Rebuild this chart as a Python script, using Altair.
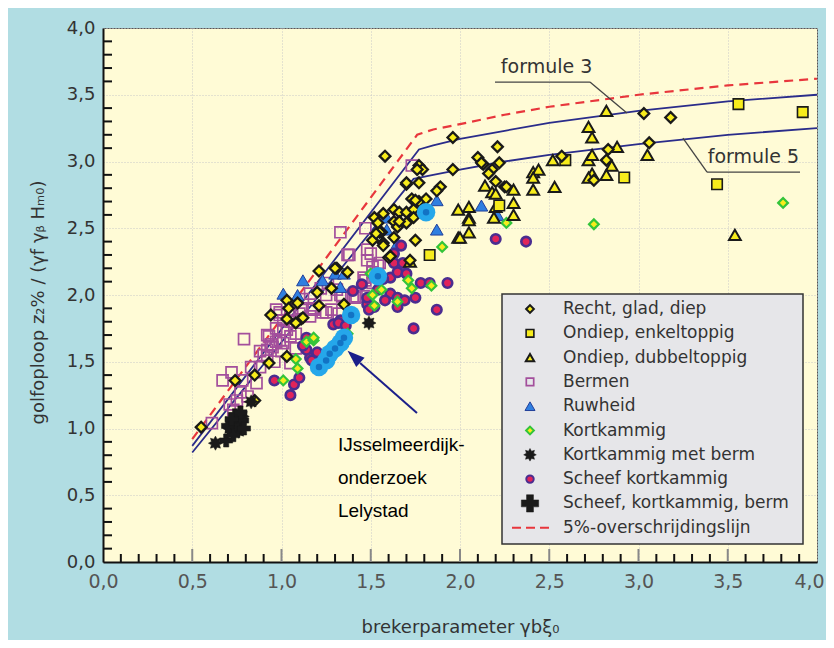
import altair as alt
import pandas as pd
import numpy as np

# ---------------- data ----------------
RECHT = [(0.55,1.01),(0.74,1.36),(0.85,1.40),(0.85,1.21),(0.93,1.49),(0.94,1.85),(1.03,1.54),
         (1.03,1.82),(1.11,1.82),(1.08,1.79),(1.21,1.92),(1.35,1.93),(1.03,1.96),(1.09,1.94),
         (1.04,1.90),(1.12,1.83),(1.21,2.18),(1.31,2.20),(1.37,2.17),(1.20,2.02),(1.28,2.05),
         (1.52,2.58),(1.54,2.54),(1.56,2.47),(1.51,2.41),(1.57,2.39),(1.60,2.28),(1.58,3.04),
         (1.96,3.18),(2.21,3.11),(2.10,3.03),(2.13,2.98),(2.22,2.99),(2.18,2.94),(2.16,2.91),
         (2.20,2.85),(2.25,2.81),(1.96,2.94),(1.77,2.97),(1.79,2.94),(1.70,2.83),(1.77,2.84),
         (1.89,2.81),(1.87,2.78),(1.73,2.72),(1.77,2.70),(1.81,2.72),(1.63,2.64),(1.66,2.62),
         (1.70,2.62),(1.74,2.64),(1.63,2.55),(1.74,2.58),(1.65,2.51),(1.70,2.54),(1.55,2.47),
         (1.63,2.43),(1.75,2.41),(1.57,2.37),(1.72,2.26),(3.03,3.36),(3.06,3.14),(2.12,2.99),
         (2.26,2.81),(2.75,2.86),(2.82,3.01),(2.83,3.09),(2.57,3.04),(3.18,3.33),(1.57,2.61),
         (1.70,2.84),(1.76,2.94),(1.75,2.71),(1.61,2.29),(1.53,2.46),(1.66,2.55),(1.30,2.20)]
ONDIEP_ENKEL = [(1.83,2.30),(2.22,2.67),(2.59,3.01),(2.92,2.88),(3.44,2.83),(3.56,3.43),(3.92,3.37)]
ONDIEP_DUBBEL = [(2.82,3.38),(2.72,3.26),(2.74,3.18),(2.52,3.01),(2.41,2.92),(2.44,2.94),(2.41,2.88),
                 (2.41,2.79),(2.53,2.81),(2.30,2.79),(2.30,2.69),(2.30,2.60),(2.14,2.82),(2.18,2.77),
                 (2.20,2.76),(2.72,3.01),(2.74,3.05),(2.74,2.91),(2.72,2.88),(2.85,2.97),(2.82,2.90),
                 (2.88,3.11),(3.05,3.05),(2.19,2.58),(2.05,2.66),(2.05,2.58),(2.05,2.47),(1.99,2.64),
                 (1.99,2.43),(2.20,2.66),(3.54,2.45),(1.72,2.25),(2.00,2.43),(2.05,2.56)]
BERMEN = [(0.79,1.67),(0.67,1.36),(0.83,1.46),(0.90,1.55),(0.93,1.69),(0.95,1.61),(0.97,1.65),
          (1.01,1.64),(1.05,1.69),(1.08,1.71),(0.75,1.21),(0.81,1.24),(0.61,1.04),(0.73,1.14),
          (0.92,1.59),(1.01,1.74),(1.10,1.86),(1.18,1.89),(1.23,1.87),(1.28,1.89),(1.05,1.49),
          (1.01,1.81),(0.72,1.42),(0.78,1.36),(0.86,1.34),(0.77,1.27),(0.92,1.70),(0.99,1.66),
          (1.03,1.74),(1.05,1.80),(0.92,1.54),(0.96,1.50),(0.88,1.46),(0.99,1.85),(0.97,1.89),
          (1.06,1.89),(0.71,1.18),(1.33,2.47),(1.47,2.50),(1.37,2.30),(1.48,2.34),(1.48,2.26),
          (1.54,2.22),(1.51,2.21),(1.46,2.13),(1.26,2.09),(1.31,2.04),(1.33,2.00),(1.25,2.00),
          (1.16,2.01),(1.11,1.90),(1.18,1.90),(1.25,1.87),(1.32,1.86),(1.16,1.84),(0.99,1.87),
          (1.73,2.97),(1.38,2.30),(1.50,2.31),(1.42,1.99),(1.34,1.99),(1.55,2.24),(1.51,2.17),
          (1.47,2.11),(1.51,2.09),(1.41,1.98),(1.46,1.99),(0.88,1.58),(0.94,1.63),(1.00,1.58),
          (0.97,1.75),(1.12,1.97),(1.22,2.05),(1.08,1.60)]
RUWHEID = [(1.12,2.11),(1.23,2.11),(1.33,2.06),(1.30,2.16),(1.09,2.00),(1.01,2.01),(1.87,2.71),
           (1.87,2.49),(2.12,2.67),(1.59,2.58),(1.59,2.49),(1.65,2.39),(2.21,2.60),(1.35,2.16)]
KORTKAMMIG = [(1.01,1.36),(1.08,1.52),(1.09,1.45),(1.14,1.65),(1.18,1.66),(1.37,1.71),(1.51,2.00),
              (1.56,2.04),(1.65,1.95),(1.71,2.11),(1.73,2.05),(1.84,2.07),(1.50,2.16),(1.90,2.36),
              (1.18,1.68),(2.26,2.54),(2.75,2.53),(3.81,2.69),(1.52,1.92)]
KORT_BERM = [(0.63,0.89),(0.71,1.00),(0.74,1.05),(0.78,1.09),(0.76,0.98),(0.83,1.20),(1.49,1.79)]
SCHEEF = [(1.05,1.25),(1.07,1.33),(1.10,1.38),(0.96,1.36),(1.16,1.53),(1.14,1.59),(1.29,1.78),
          (1.33,1.81),(1.48,1.93),(1.52,1.91),(1.74,1.75),(1.17,1.51),(1.14,1.68),(1.32,1.79),
          (1.48,1.98),(1.49,1.89),(1.61,2.13),(1.65,2.17),(1.70,2.16),(1.63,2.24),(1.68,2.24),
          (1.61,2.01),(1.58,1.96),(1.65,1.98),(1.69,1.96),(1.75,1.98),(1.78,2.09),(1.83,2.09),
          (1.93,2.09),(1.87,1.89),(1.54,2.04),(1.63,2.31),(1.67,2.37),(1.65,1.91),(2.20,2.42),
          (2.37,2.40),(1.40,2.03),(1.45,2.08),(1.57,2.12),(1.12,1.62),(1.20,1.57),(1.36,1.77)]
SCHEEF_BERM = [(0.69,0.91),(0.73,0.95),(0.75,1.03),(0.78,1.06),(0.74,1.10),(0.77,1.12),(0.70,1.02),
               (0.79,1.00),(0.72,1.07)]
IJSSEL = [(1.21,1.46),(1.25,1.51),(1.27,1.56),(1.30,1.60),(1.33,1.64),(1.35,1.68),(1.39,1.85),
          (1.54,2.14),(1.81,2.62)]

FORMULE3_X = [0.5, 1.77, 1.85, 2.0, 2.25, 2.5, 3.0, 3.5, 4.0]
FORMULE3_Y = [0.87, 3.09, 3.12, 3.17, 3.23, 3.29, 3.38, 3.45, 3.50]
FORMULE5_X = [0.5, 1.74, 1.85, 2.0, 2.25, 2.5, 3.0, 3.5, 4.0]
FORMULE5_Y = [0.82, 2.87, 2.90, 2.94, 3.00, 3.05, 3.13, 3.20, 3.25]
OVERSCHR_X = [0.5, 1.76, 1.85, 2.0, 2.25, 2.5, 3.0, 3.5, 4.0]
OVERSCHR_Y = [0.92, 3.20, 3.24, 3.28, 3.35, 3.41, 3.50, 3.57, 3.62]

LEGEND_LABELS = ["Recht, glad, diep", "Ondiep, enkeltoppig", "Ondiep, dubbeltoppig", "Bermen",
                 "Ruwheid", "Kortkammig", "Kortkammig met berm", "Scheef kortkammig",
                 "Scheef, kortkammig, berm", "5%-overschrijdingslijn"]
AXIS_VALUES = [0.0, 0.5, 1.0, 1.5, 2.0, 2.5, 3.0, 3.5, 4.0]
MINOR_TICKS = [v for v in np.round(np.arange(0.1, 4.0, 0.1), 1) if round(v * 2, 6) % 1 != 0]

# ---------------- styling ----------------
FONT = "DejaVu Sans"
NAVY = "#2a2c8a"
RED = "#e8363c"
YELLOW = "#f7ec1c"

star = []
for k in range(16):
    a = k * np.pi / 8 - np.pi / 2
    r = 1.0 if k % 2 == 0 else 0.62
    star.append(f"{r*np.cos(a):.3f},{r*np.sin(a):.3f}")
ASTERISK = "M" + " L".join(star) + " Z"
ARROWHEAD = "M0,-1 L0.72,1 L-0.72,1 Z"

label_expr = "replace(format(datum.value, '.1f'), '.', ',')"
xscale = alt.Scale(domain=[0, 4], nice=False, zero=False)
yscale = alt.Scale(domain=[0, 4], nice=False, zero=False)
xaxis = alt.Axis(values=AXIS_VALUES, labelExpr=label_expr, labelFont=FONT, labelFontSize=19,
                 labelColor="#555", labelPadding=10, labelFlush=False, labelOverlap=False,
                 labelOffset={"condition": {"test": "datum.value == 4", "value": -8}, "value": 0},
                 ticks=False, domainColor="#111", domainWidth=2,
                 grid=True, gridColor="#c9c9c9", gridDash=[1, 2], gridWidth=1,
                 title="brekerparameter γbξ₀", titleFont=FONT, titleFontSize=18,
                 titleFontWeight="normal", titleColor="#333", titleX=357, titleY=70,
                 titleBaseline="alphabetic", titleAlign="center")
yaxis = alt.Axis(values=AXIS_VALUES, labelExpr=label_expr, labelFont=FONT, labelFontSize=18,
                 labelColor="#333", labelPadding=8, labelFlush=False, labelOverlap=False,
                 ticks=False, domainColor="#111", domainWidth=2,
                 grid=True, gridColor="#c9c9c9", gridDash=[1, 2], gridWidth=1,
                 title="golfoploop z₂% / (γf γᵦ Hₘ₀)", titleFont=FONT, titleFontSize=18,
                 titleFontWeight="normal", titleColor="#333", titleX=-60, titleY=274,
                 titleAngle=270, titleBaseline="alphabetic", titleAlign="center")
X = alt.X("x:Q", scale=xscale, axis=xaxis)
Y = alt.Y("y:Q", scale=yscale, axis=yaxis)
X2 = alt.X2("x2:Q")
Y2 = alt.Y2("y2:Q")

layers = []

# minor ticks (inward)
layers.append(alt.Chart(pd.DataFrame({"y": MINOR_TICKS})).mark_rule(color="#111", strokeWidth=2)
              .encode(y=Y, x=alt.value(0), x2=alt.value(9)))
layers.append(alt.Chart(pd.DataFrame({"x": MINOR_TICKS})).mark_rule(color="#111", strokeWidth=2)
              .encode(x=X, y=alt.value(534), y2=alt.value(526)))
layers.append(alt.Chart(pd.DataFrame({"x": AXIS_VALUES[1:-1]})).mark_rule(color="#888", strokeWidth=2)
              .encode(x=X, y=alt.value(534), y2=alt.value(521)))

# formula lines
def line_df(xs, ys):
    return pd.DataFrame({"x": xs, "y": ys})

layers.append(alt.Chart(line_df(OVERSCHR_X, OVERSCHR_Y)).mark_line(color=RED, strokeWidth=2.2, strokeDash=[9, 6])
              .encode(x=X, y=Y))
layers.append(alt.Chart(line_df(FORMULE3_X, FORMULE3_Y)).mark_line(color=NAVY, strokeWidth=1.8)
              .encode(x=X, y=Y))
layers.append(alt.Chart(line_df(FORMULE5_X, FORMULE5_Y)).mark_line(color=NAVY, strokeWidth=1.8)
              .encode(x=X, y=Y))

# leader lines for labels
leaders = pd.DataFrame({"x": [2.196, 2.728, 3.384, 3.384],
                        "y": [3.595, 3.595, 2.921, 2.921],
                        "x2": [2.728, 2.935, 3.905, 3.249],
                        "y2": [3.595, 3.363, 2.921, 3.176]})
layers.append(alt.Chart(leaders).mark_rule(color="#444", strokeWidth=1.3)
              .encode(x=X, y=Y, x2=X2, y2=Y2))
labels = pd.DataFrame({"x": [2.485, 3.644], "y": [3.71, 3.03], "t": ["formule 3", "formule 5"]})
layers.append(alt.Chart(labels).mark_text(font=FONT, fontSize=19, color="#333", baseline="middle")
              .encode(x=X, y=Y, text="t:N"))

# scatter series
def pts(data, **style):
    df = pd.DataFrame(data, columns=["x", "y"])
    return alt.Chart(df).mark_point(opacity=1, **style).encode(x=X, y=Y)

STYLES = {
    "Bermen": dict(shape="square", filled=False, color="#a34f9c", size=120, strokeWidth=1.7),
    "Ruwheid": dict(shape="triangle-up", filled=True, fill="#2f7fe0", stroke="#23409a", size=160, strokeWidth=1),
    "Scheef kortkammig": dict(shape="circle", filled=True, fill="#e0245a", stroke="#4a2d90", size=90, strokeWidth=2.6),
    "Kortkammig": dict(shape="diamond", filled=True, fill=YELLOW, stroke="#33c43a", size=95, strokeWidth=2.2),
    "Ondiep, dubbeltoppig": dict(shape="triangle-up", filled=True, fill=YELLOW, stroke="#1a1a1a", size=140, strokeWidth=2),
    "Ondiep, enkeltoppig": dict(shape="square", filled=True, fill=YELLOW, stroke="#1a1a1a", size=110, strokeWidth=1.6),
    "Recht, glad, diep": dict(shape="diamond", filled=True, fill=YELLOW, stroke="#1a1a1a", size=115, strokeWidth=2.3),
    "Kortkammig met berm": dict(shape=ASTERISK, filled=True, fill="#1a1a1a", stroke="#1a1a1a", size=200, strokeWidth=0.5),
    "Scheef, kortkammig, berm": dict(shape="cross", filled=True, fill="#1a1a1a", stroke="#1a1a1a", size=170, strokeWidth=0.5),
}
SERIES = [("Bermen", BERMEN), ("Ruwheid", RUWHEID), ("Scheef kortkammig", SCHEEF),
          ("Kortkammig", KORTKAMMIG), ("Ondiep, dubbeltoppig", ONDIEP_DUBBEL),
          ("Ondiep, enkeltoppig", ONDIEP_ENKEL), ("Recht, glad, diep", RECHT),
          ("Kortkammig met berm", KORT_BERM), ("Scheef, kortkammig, berm", SCHEEF_BERM)]
for name, data in SERIES:
    layers.append(pts(data, **STYLES[name]))

# IJsselmeerdijk points
layers.append(pts(IJSSEL, shape="circle", filled=True, fill="#25a7ea", size=340, strokeWidth=0))
layers.append(pts(IJSSEL, shape="circle", filled=True, fill="#1273c4", size=42, strokeWidth=0))

# arrow + annotation
arrow = pd.DataFrame({"x": [1.759], "y": [1.116], "x2": [1.440], "y2": [1.491]})
layers.append(alt.Chart(arrow).mark_rule(color="#1b1f8a", strokeWidth=2).encode(x=X, y=Y, x2=X2, y2=Y2))
head = pd.DataFrame({"x": [1.406], "y": [1.539]})
layers.append(alt.Chart(head).mark_point(shape=ARROWHEAD, filled=True, fill="#1b1f8a", opacity=1,
                                         size=300, angle=312, strokeWidth=0).encode(x=X, y=Y))
annot = pd.DataFrame({"x": [1.316] * 3, "y": [0.88, 0.63, 0.385],
                      "t": ["IJsselmeerdijk-", "onderzoek", "Lelystad"]})
layers.append(alt.Chart(annot).mark_text(font="Liberation Sans", fontSize=19, color="#000",
                                         align="left", baseline="middle").encode(x=X, y=Y, text="t:N"))

# manual legend
one = alt.Data(values=[{"a": 1}])
layers.append(alt.Chart(one).mark_rect(fill="#e6e6e9", stroke="#333", strokeWidth=1.5)
              .encode(x=alt.value(399), x2=alt.value(700), y=alt.value(266), y2=alt.value(516)))
LEG_SIZES = {"Recht, glad, diep": 60, "Ondiep, enkeltoppig": 60, "Ondiep, dubbeltoppig": 70,
             "Bermen": 55, "Ruwheid": 100, "Kortkammig": 60, "Kortkammig met berm": 160,
             "Scheef kortkammig": 55, "Scheef, kortkammig, berm": 300}
for i, lab in enumerate(LEGEND_LABELS):
    yy = 281 + 24.3 * i
    if lab in STYLES:
        st = dict(STYLES[lab])
        st["size"] = LEG_SIZES[lab]
        if lab in ("Recht, glad, diep", "Kortkammig", "Scheef kortkammig"):
            st["strokeWidth"] = 2
        layers.append(alt.Chart(one).mark_point(opacity=1, **st)
                      .encode(x=alt.value(427), y=alt.value(yy)))
    else:
        layers.append(alt.Chart(one).mark_rule(color=RED, strokeWidth=2, strokeDash=[9, 5])
                      .encode(x=alt.value(409), x2=alt.value(450), y=alt.value(yy)))
    layers.append(alt.Chart(one).mark_text(text=lab, font=FONT, fontSize=17, color="#333",
                                           align="left", baseline="middle")
                  .encode(x=alt.value(460), y=alt.value(yy)))

chart = alt.layer(*layers).properties(
    width=714, height=534,
    autosize=alt.AutoSizeParams(type="none"),
    padding={"left": 95, "top": 20, "right": 9, "bottom": 78},
    background="#b1dde3",
).configure_view(fill="#fffbd6", stroke="#555", strokeWidth=1)

chart.save("out.html", embed_options={"renderer": "svg", "actions": False})
